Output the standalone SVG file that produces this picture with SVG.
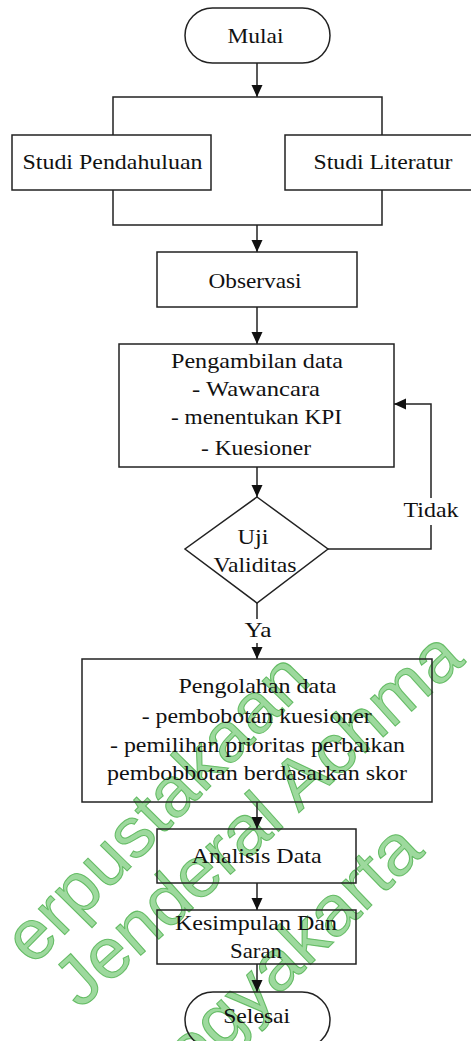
<svg xmlns="http://www.w3.org/2000/svg" width="471" height="1041" viewBox="0 0 471 1041">
<style>
.s{fill:none;stroke:#222;stroke-width:1.5}
.t{font-family:"Liberation Serif","Times New Roman",serif;font-size:21px;fill:#111;text-anchor:middle}
.c{fill:none;stroke:#222;stroke-width:1.5}
.wm{font-family:"Liberation Sans",Arial,sans-serif;font-size:70px;fill:#84d084;fill-opacity:0.8;stroke:#4cb04c;stroke-width:1;stroke-opacity:0.8}
</style>
<defs>
<marker id="arr" viewBox="0 0 12 12" refX="12" refY="6" markerWidth="12" markerHeight="12" markerUnits="userSpaceOnUse" orient="auto">
<path d="M0,0.5 L12,6 L0,11.5 z" fill="#111"/>
</marker>
</defs>
<rect width="471" height="1041" fill="#fff"/>

<g id="watermark">
<text class="wm" transform="translate(33,967) rotate(-45.5)" textLength="400" lengthAdjust="spacingAndGlyphs">erpustakaan</text>
<text class="wm" transform="translate(80,1010) rotate(-42)" textLength="520" lengthAdjust="spacingAndGlyphs">Jenderal Achma</text>
<text class="wm" transform="translate(160,1110) rotate(-44)" textLength="370" lengthAdjust="spacingAndGlyphs">Yogyakarta</text>
</g>

<g id="connectors">
<path class="c" d="M257,63 V97" marker-end="url(#arr)"/>
<path class="c" d="M113,135 V97 H382 V135"/>
<path class="c" d="M113,190 V225 H382 V190"/>
<path class="c" d="M257,225 V252" marker-end="url(#arr)"/>
<path class="c" d="M257,307 V344" marker-end="url(#arr)"/>
<path class="c" d="M257,467 V497" marker-end="url(#arr)"/>
<path class="c" d="M328,549 H431 V404 H394" marker-end="url(#arr)"/>
<path class="c" d="M257,603 V659" marker-end="url(#arr)"/>
<path class="c" d="M257,802 V829" marker-end="url(#arr)"/>
<path class="c" d="M257,883 V910" marker-end="url(#arr)"/>
<path class="c" d="M257,964 V992" marker-end="url(#arr)"/>
<rect x="401" y="498" width="60" height="27" fill="#fff"/>
<text class="t" x="431" y="517" textLength="55" lengthAdjust="spacingAndGlyphs">Tidak</text>
<rect x="243" y="619" width="30" height="24" fill="#fff"/>
<text class="t" x="258" y="637" textLength="27" lengthAdjust="spacingAndGlyphs">Ya</text>
</g>

<g id="mulai">
<rect class="s" x="185" y="8" width="145" height="55" rx="27.5"/>
<text class="t" x="255.5" y="43" textLength="56" lengthAdjust="spacingAndGlyphs">Mulai</text>
</g>
<g id="studi-pendahuluan">
<rect class="s" x="12" y="135" width="199" height="55"/>
<text class="t" x="112.5" y="169" textLength="180" lengthAdjust="spacingAndGlyphs">Studi Pendahuluan</text>
</g>
<g id="studi-literatur">
<rect class="s" x="285" y="135" width="200" height="55"/>
<text class="t" x="383" y="169" textLength="139" lengthAdjust="spacingAndGlyphs">Studi Literatur</text>
</g>
<g id="observasi">
<rect class="s" x="157" y="252" width="200" height="55"/>
<text class="t" x="255" y="288" textLength="93" lengthAdjust="spacingAndGlyphs">Observasi</text>
</g>
<g id="pengambilan-data">
<rect class="s" x="119" y="344" width="275" height="123"/>
<text class="t" x="257" y="367.5" textLength="172" lengthAdjust="spacingAndGlyphs">Pengambilan data</text>
<text class="t" x="256" y="395.5" textLength="128" lengthAdjust="spacingAndGlyphs">- Wawancara</text>
<text class="t" x="256.5" y="423.5" textLength="171" lengthAdjust="spacingAndGlyphs">- menentukan KPI</text>
<text class="t" x="256" y="454.5" textLength="110" lengthAdjust="spacingAndGlyphs">- Kuesioner</text>
</g>
<g id="uji-validitas">
<path class="s" d="M257,497 L328,549 L257,603 L185,549 Z"/>
<text class="t" x="253" y="544" textLength="31" lengthAdjust="spacingAndGlyphs">Uji</text>
<text class="t" x="255" y="572" textLength="83" lengthAdjust="spacingAndGlyphs">Validitas</text>
</g>
<g id="pengolahan-data">
<rect class="s" x="82" y="659" width="350" height="143"/>
<text class="t" x="257.5" y="693" textLength="158" lengthAdjust="spacingAndGlyphs">Pengolahan data</text>
<text class="t" x="256.7" y="723" textLength="230" lengthAdjust="spacingAndGlyphs">- pembobotan kuesioner</text>
<text class="t" x="257.5" y="751.5" textLength="295" lengthAdjust="spacingAndGlyphs">- pemilihan prioritas perbaikan</text>
<text class="t" x="257" y="780" textLength="300" lengthAdjust="spacingAndGlyphs">pembobbotan berdasarkan skor</text>
</g>
<g id="analisis-data">
<rect class="s" x="157" y="829" width="199" height="54"/>
<text class="t" x="256.7" y="863" textLength="130" lengthAdjust="spacingAndGlyphs">Analisis Data</text>
</g>
<g id="kesimpulan">
<rect class="s" x="157" y="910" width="199" height="54"/>
<text class="t" x="256" y="930" textLength="162" lengthAdjust="spacingAndGlyphs">Kesimpulan Dan</text>
<text class="t" x="256" y="958" textLength="52" lengthAdjust="spacingAndGlyphs">Saran</text>
</g>
<g id="selesai">
<rect class="s" x="185" y="992" width="145" height="56" rx="28"/>
<text class="t" x="256.7" y="1023" textLength="67" lengthAdjust="spacingAndGlyphs">Selesai</text>
</g>
</svg>
